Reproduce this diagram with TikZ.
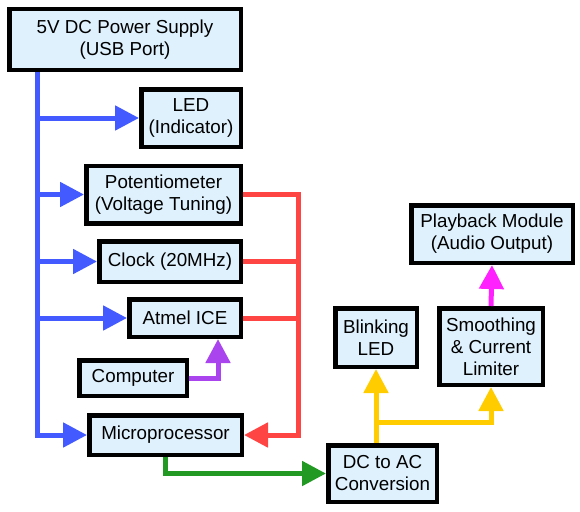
\documentclass[tikz,border=0pt]{standalone}
\usepackage{fontspec}
\setmainfont{Liberation Sans}
\usetikzlibrary{arrows.meta}
\definecolor{boxfill}{RGB}{222,241,253}
\definecolor{cblue}{RGB}{66,90,255}
\definecolor{cred}{RGB}{255,68,68}
\definecolor{cpurple}{RGB}{170,68,238}
\definecolor{cgreen}{RGB}{34,153,34}
\definecolor{cyellow}{RGB}{255,204,0}
\definecolor{cmag}{RGB}{255,34,255}
\tikzset{
  blk/.style={draw=black, fill=boxfill, line width=4.5pt, inner sep=0pt, outer sep=2.25pt,
    align=center, font=\fontsize{18.8}{22}\selectfont, rectangle},
  conn/.style={line width=5pt, line join=miter, -{Triangle[length=24pt,width=24pt]}},
  plain/.style={line width=5pt, line join=miter},
}
\begin{document}
\begin{tikzpicture}[x=1pt,y=-1pt]
\useasboundingbox (0,0) rectangle (580,511);
% boxes
\node[blk, minimum width=231.5pt, minimum height=60.5pt] (psu) at (125,39.5) {5V DC Power Supply\\(USB Port)};
\node[blk, minimum width=99.5pt, minimum height=57.5pt] (led) at (191,118) {LED\\(Indicator)};
\node[blk, minimum width=154.5pt, minimum height=57.5pt] (pot) at (163.5,194.5) {Potentiometer\\(Voltage Tuning)};
\node[blk, minimum width=141.5pt, minimum height=40.5pt] (clk) at (170,261.5) {Clock (20MHz)};
\node[blk, minimum width=111.5pt, minimum height=37.5pt] (ice) at (185,318) {Atmel ICE};
\node[blk, minimum width=107.5pt, minimum height=35.5pt] (pc) at (133,378) {Computer};
\node[blk, minimum width=152.5pt, minimum height=39.5pt] (mcu) at (165.5,435) {Microprocessor};
\node[blk, minimum width=108.5pt, minimum height=56.5pt] (dcac) at (382.5,473.5) {DC to AC\\Conversion};
\node[blk, minimum width=81.5pt, minimum height=58.5pt] (blink) at (376,337.5) {Blinking\\LED};
\node[blk, minimum width=103.5pt, minimum height=76.5pt] (smooth) at (491,346.5) {Smoothing\\\& Current\\Limiter};
\node[blk, minimum width=161.5pt, minimum height=57.5pt] (play) at (492,234) {Playback Module\\(Audio Output)};
% helper coordinates
\coordinate (bx) at (37,72);
\coordinate (rx) at (298,0);
\coordinate (px) at (218,0);
\coordinate (yy) at (0,422);
% blue power bus
\draw[conn, cblue] (bx) |- (mcu.west);
\draw[conn, cblue] (bx |- led.west) -- (led.west);
\draw[conn, cblue] (bx |- pot.west) -- (pot.west);
\draw[conn, cblue] (bx |- clk.west) -- (clk.west);
\draw[conn, cblue] (bx |- ice.west) -- (ice.west);
% red bus
\draw[conn, cred] (pot.east) -- (pot.east -| rx) |- (mcu.east);
\draw[plain, cred] (clk.east) -- (clk.east -| rx);
\draw[plain, cred] (ice.east) -- (ice.east -| rx);
% purple
\draw[conn, cpurple] (pc.east) -| (ice.south -| px);
% green
\draw[conn, cgreen] (mcu.south) |- (dcac.west);
% yellow
\draw[conn, cyellow] (dcac.north -| blink.south) -- (blink.south);
\draw[conn, cyellow] (blink.south |- yy) -| (smooth.south);
% magenta
\draw[conn, cmag] (smooth.north) -- (play.south);
\end{tikzpicture}
\end{document}
